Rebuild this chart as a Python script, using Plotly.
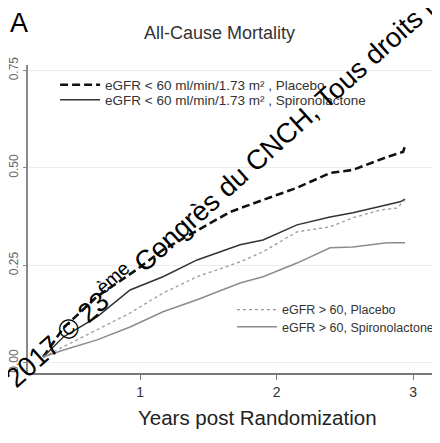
import plotly.graph_objects as go

# Years post randomization / cumulative mortality
t_pl_low = [0.29, 0.44, 0.685, 0.978, 1.168, 1.418, 1.659, 1.901, 2.150, 2.392, 2.560, 2.810, 2.927, 2.941]
v_pl_low = [0.015, 0.09, 0.17, 0.24, 0.29, 0.34, 0.387, 0.418, 0.449, 0.487, 0.495, 0.528, 0.541, 0.556]

t_sp_low = [0.29, 0.44, 0.685, 0.927, 1.168, 1.418, 1.733, 1.901, 2.150, 2.392, 2.560, 2.758, 2.905, 2.941]
v_sp_low = [0.015, 0.067, 0.118, 0.187, 0.221, 0.264, 0.303, 0.315, 0.354, 0.374, 0.385, 0.400, 0.413, 0.420]

t_pl_high = [0.29, 0.44, 0.685, 0.927, 1.168, 1.418, 1.733, 1.901, 2.150, 2.392, 2.560, 2.758, 2.883, 2.941]
v_pl_high = [0.015, 0.041, 0.085, 0.128, 0.179, 0.221, 0.259, 0.285, 0.336, 0.349, 0.372, 0.392, 0.397, 0.418]

t_sp_high = [0.29, 0.44, 0.685, 0.927, 1.168, 1.418, 1.733, 1.901, 2.150, 2.392, 2.560, 2.810, 2.941]
v_sp_high = [0.015, 0.033, 0.059, 0.092, 0.131, 0.162, 0.205, 0.221, 0.256, 0.295, 0.297, 0.308, 0.308]

names = [
    "eGFR < 60 ml/min/1.73 m² , Placebo",
    "eGFR < 60 ml/min/1.73 m² , Spironolactone",
    "eGFR > 60, Placebo",
    "eGFR > 60, Spironolactone",
]
x_ticks = [1, 2, 3]
y_ticks = [0.0, 0.25, 0.50, 0.75]
y_tick_text = ["0.00", "0.25", "0.50", "0.75"]

FONT = "Liberation Sans, Arial, sans-serif"

fig = go.Figure()
fig.add_trace(go.Scatter(x=t_pl_low, y=v_pl_low, mode="lines", name=names[0],
                         line=dict(color="#111111", width=2.6, dash="8px,4px"), legend="legend"))
fig.add_trace(go.Scatter(x=t_sp_low, y=v_sp_low, mode="lines", name=names[1],
                         line=dict(color="#333333", width=1.5), legend="legend2"))
fig.add_trace(go.Scatter(x=t_pl_high, y=v_pl_high, mode="lines", name=names[2],
                         line=dict(color="#9a9a9a", width=1.3, dash="dot"), legend="legend3"))
fig.add_trace(go.Scatter(x=t_sp_high, y=v_sp_high, mode="lines", name=names[3],
                         line=dict(color="#8c8c8c", width=1.5), legend="legend4"))


def leg(x, y, size):
    return dict(x=x, y=y, xref="container", yref="container",
                xanchor="left", yanchor="middle", bgcolor="rgba(0,0,0,0)",
                font=dict(size=size, family=FONT, color="#333333"),
                itemwidth=40, borderwidth=0)


fig.update_layout(
    width=440, height=443,
    margin=dict(l=20, r=16, t=57, b=78, autoexpand=False),
    paper_bgcolor="white", plot_bgcolor="white",
    font=dict(family=FONT, color="#333333"),
    showlegend=True,
    legend=leg(0.107, 0.8262, 13.5),
    legend2=leg(0.107, 0.7923, 13.5),
    legend3=leg(0.509, 0.3183, 12.5),
    legend4=leg(0.509, 0.2799, 12.5),
    xaxis=dict(range=[0.179, 3.139], tickvals=x_ticks, ticks="outside", ticklen=5,
               tickcolor="#777777", showline=True, linecolor="#777777", linewidth=1.5,
               showgrid=False, zeroline=False, automargin=False,
               tickfont=dict(size=14, family=FONT, color="#333333")),
    yaxis=dict(range=[-0.026, 0.764], tickvals=y_ticks, ticktext=y_tick_text,
               tickangle=-90, ticks="outside", ticklen=3, tickcolor="#888888",
               showline=True, linecolor="#888888", linewidth=1.5, automargin=False,
               showgrid=True, gridcolor="#ededed", gridwidth=1, zeroline=False,
               tickfont=dict(size=12, family=FONT, color="#666666")),
)

fig.add_annotation(text="A", xref="paper", yref="paper", x=-0.022, y=1.136,
                   xanchor="center", yanchor="middle", showarrow=False,
                   font=dict(size=27, family=FONT, color="#000000"))
fig.add_annotation(text="All-Cause Mortality", xref="paper", yref="paper", x=0.475, y=1.104,
                   xanchor="center", yanchor="middle", showarrow=False,
                   font=dict(size=18, family=FONT, color="#333333"))
fig.add_annotation(text="Years post Randomization", xref="paper", yref="paper", x=0.567, y=-0.146,
                   xanchor="center", yanchor="middle", showarrow=False,
                   font=dict(size=20.5, family=FONT, color="#222222"))
fig.add_annotation(text="2017 © 23<sup>ème</sup> Congrès du CNCH, Tous droits réservés",
                   xref="paper", yref="paper", x=0.564, y=0.695,
                   xanchor="center", yanchor="middle", showarrow=False, textangle=-42,
                   font=dict(size=27.5, family=FONT, color="#000000"))

fig.write_html("out.html")
